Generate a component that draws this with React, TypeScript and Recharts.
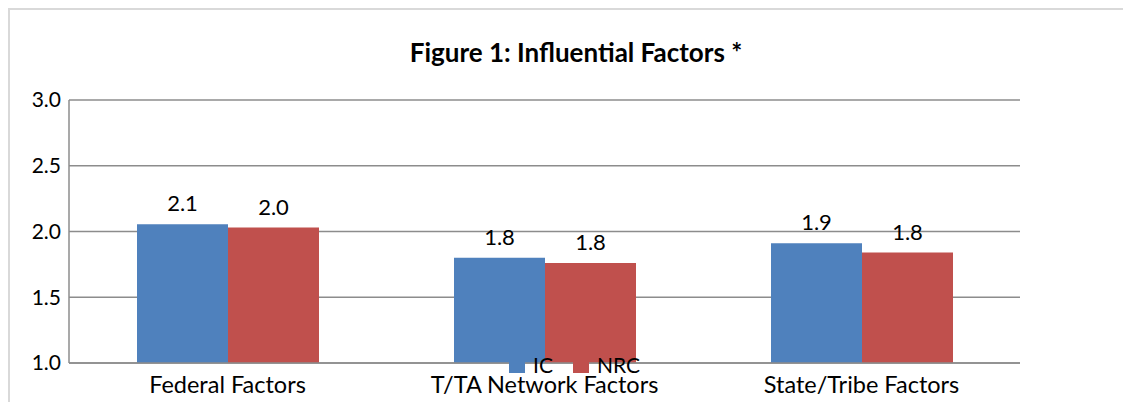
import React from 'react';
import { BarChart, Bar, XAxis, YAxis, CartesianGrid, Legend, LabelList } from 'recharts';

const categories = ['Federal Factors', 'T/TA Network Factors', 'State/Tribe Factors'];
const icValues = [2.055, 1.8, 1.91];
const nrcValues = [2.03, 1.76, 1.84];
const yTicks = [1.0, 1.5, 2.0, 2.5, 3.0];
const titleText = 'Figure 1: Influential Factors *';

const data = categories.map((c, i) => ({ name: c, IC: icValues[i], NRC: nrcValues[i] }));

const FONT = 'Lato, "Liberation Sans", sans-serif';
const W = 1121;
const H = 392;

const LegendContent = (props: any) => {
  const payload = props.payload || [];
  return (
    <div style={{ display: 'flex', alignItems: 'center', fontFamily: FONT, fontSize: 21, color: '#000' }}>
      {payload.map((p: any, i: number) => (
        <div key={i} style={{ display: 'flex', alignItems: 'center', marginRight: 20 }}>
          <div style={{ width: 16, height: 15, background: p.color, marginRight: 8 }} />
          <span style={{ lineHeight: '22px' }}>{p.value}</span>
        </div>
      ))}
    </div>
  );
};

export default function App() {
  return (
    <div style={{ position: 'relative', width: W, height: H, borderTop: '2px solid #d9d9d9', borderLeft: '2px solid #d9d9d9', background: '#fff' }}>
      <div style={{ position: 'absolute', left: 0, width: 1132, top: 27, textAlign: 'center', fontFamily: FONT, fontWeight: 700, fontSize: 26, color: '#000', lineHeight: '30px' }}>
        {titleText}
      </div>
      <BarChart
        width={W}
        height={H}
        data={data}
        margin={{ top: 90, right: 111, bottom: 9, left: 0 }}
        barGap={0}
        style={{ fontFamily: FONT }}
      >
        <CartesianGrid vertical={false} stroke="#8c8c8c" strokeWidth={1.5} />
        <XAxis
          dataKey="name"
          height={30}
          tickLine={false}
          tickSize={0}
          tickMargin={13}
          axisLine={{ stroke: '#8c8c8c', strokeWidth: 1.5 }}
          tick={{ fill: '#000', fontSize: 23.5, fontFamily: FONT }}
          interval={0}
        />
        <YAxis
          width={59}
          domain={[1, 3]}
          ticks={yTicks}
          tickFormatter={(v: number) => v.toFixed(1)}
          tickLine={false}
          tickSize={0}
          tickMargin={8}
          axisLine={{ stroke: '#8c8c8c', strokeWidth: 1.5 }}
          tick={{ fill: '#000', fontSize: 21, fontFamily: FONT }}
          allowDataOverflow
        />
        <Legend
          layout="horizontal"
          align="center"
          verticalAlign="middle"
          content={<LegendContent />}
          wrapperStyle={{ position: 'absolute', top: 344, left: 499, width: 'auto', height: 'auto' }}
        />
        <Bar dataKey="IC" fill="#4F81BD" barSize={91} isAnimationActive={false}>
          <LabelList dataKey="IC" position="top" offset={13} formatter={(v: any) => Number(v).toFixed(1)} style={{ fill: '#000', fontSize: 22, fontFamily: FONT }} />
        </Bar>
        <Bar dataKey="NRC" fill="#C0504D" barSize={91} isAnimationActive={false}>
          <LabelList dataKey="NRC" position="top" offset={13} formatter={(v: any) => Number(v).toFixed(1)} style={{ fill: '#000', fontSize: 22, fontFamily: FONT }} />
        </Bar>
      </BarChart>
    </div>
  );
}
